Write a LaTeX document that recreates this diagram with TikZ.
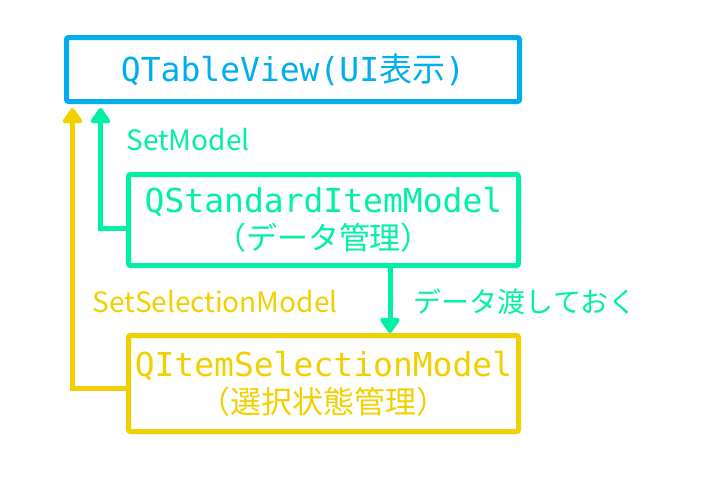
\documentclass[tikz,border=0pt]{standalone}
\usepackage{fontspec}
\setmonofont{DejaVu Sans Mono}
\newfontfamily\jpfont{Noto Sans CJK JP}
\usetikzlibrary{arrows.meta}
\definecolor{viewblue}{RGB}{0,174,239}
\definecolor{modelgreen}{RGB}{0,240,165}
\definecolor{selyellow}{RGB}{240,208,0}
\tikzset{modelbox/.style={draw,line width=5pt,rounded corners=2pt,align=center,inner sep=0pt,
		font=\fontsize{33}{37}\selectfont\ttfamily},
	linkarrow/.style={line width=5pt,-{Triangle[width=22pt,length=17pt,round]},shorten >=4pt},
	linktext/.style={font=\jpfont\fontsize{28}{32}\selectfont}}

\begin{document}
\begin{tikzpicture}[x=1pt,y=-1pt]
		\useasboundingbox (0,0) rectangle (702,482);
			\node[modelbox,draw=viewblue,text=viewblue,minimum width=453pt,minimum height=64pt] (view) at (293,69.5) {QTableView(UI{\jpfont 表示})};
			\node[modelbox,draw=modelgreen,text=modelgreen,minimum width=390pt,minimum height=91pt] (std) at (323.5,220) {QStandardItemModel\\{\jpfont\fontsize{31}{37}\selectfont （データ管理）}};
			\node[modelbox,draw=selyellow,text=selyellow,minimum width=390pt,minimum height=96pt] (sel) at (323.5,383.5) {QItemSelectionModel\\{\jpfont\fontsize{31}{37}\selectfont （選択状態管理）}};
		
			\node[linktext,text=modelgreen] (setmodel) at (188,140) {SetModel};
			\node[linktext,text=selyellow] (setsel) at (215,302) {SetSelectionModel};
			\node[linktext,text=modelgreen] (pass) at (525,302) {データ渡しておく};
		
			\draw[linkarrow,modelgreen] ([yshift=-8pt]std.west) -| ([xshift=36.5pt]view.south west);
			\draw[linkarrow,selyellow] ([yshift=-4.5pt]sel.west) -| ([xshift=8.5pt]view.south west);
			\draw[linkarrow,modelgreen,shorten >=0pt] ([xshift=66.5pt]std.south) -- ([xshift=66.5pt]sel.north);
		\end{tikzpicture}
\end{document}
